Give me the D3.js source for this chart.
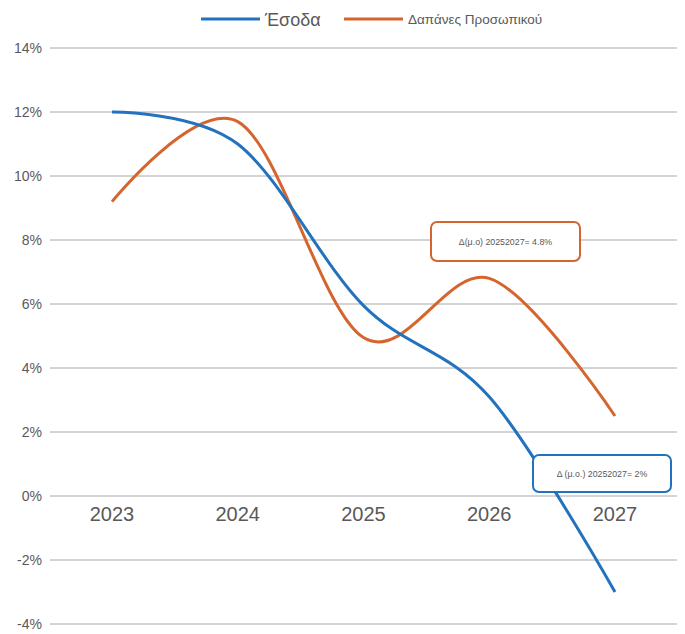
<!DOCTYPE html>
<html><head><meta charset="utf-8">
<script src="https://cdn.jsdelivr.net/npm/d3@7"></script>
<style>body{margin:0;background:#fff}svg{display:block}</style>
</head><body>
<svg id="c" width="685" height="634"></svg>
<script>
const years = ["2023","2024","2025","2026","2027"];
const esoda = [12.0, 11.0, 5.95, 3.1, -3.0];
const dapanes = [9.2, 11.7, 4.95, 6.8, 2.5];
const yTicks = [-4,-2,0,2,4,6,8,10,12,14];
const seriesNames = ["Έσοδα","Δαπάνες Προσωπικού"];
const annotations = ["Δ(μ.ο) 20252027= 4.8%","Δ (μ.ο.) 20252027= 2%"];

const svg = d3.select("#c");
const blue = "#2272BE", orange = "#D5652E", textCol = "#595959";
const x = d3.scalePoint().domain(years).range([112, 615]);
const y = d3.scaleLinear().domain([-4,14]).range([624, 48]);

// gridlines
svg.append("g").selectAll("line").data(yTicks).join("line")
  .attr("x1",50).attr("x2",677).attr("y1",d=>y(d)).attr("y2",d=>y(d))
  .attr("stroke","#a8a8a8").attr("stroke-width",1);
// y labels
svg.append("g").selectAll("text").data(yTicks).join("text")
  .attr("x",42).attr("y",d=>y(d)+5).attr("text-anchor","end")
  .attr("font-family","Liberation Sans, Arial, sans-serif").attr("font-size",14)
  .attr("fill",textCol).text(d=>d+"%");
// x labels
svg.append("g").selectAll("text").data(years).join("text")
  .attr("x",d=>x(d)).attr("y",521).attr("text-anchor","middle")
  .attr("font-family","Liberation Sans, Arial, sans-serif").attr("font-size",20)
  .attr("fill",textCol).text(d=>d);

const line = d3.line().x((d,i)=>x(years[i])).y(d=>y(d)).curve(d3.curveCardinal.tension(0));
svg.append("path").datum(dapanes).attr("d",line).attr("fill","none").attr("stroke",orange).attr("stroke-width",3);
svg.append("path").datum(esoda).attr("d",line).attr("fill","none").attr("stroke",blue).attr("stroke-width",3);

// annotation boxes
function box(x0,y0,w,h,col,txt){
  svg.append("rect").attr("x",x0).attr("y",y0).attr("width",w).attr("height",h)
    .attr("rx",6).attr("fill","#fff").attr("stroke",col).attr("stroke-width",2);
  svg.append("text").attr("x",x0+w/2).attr("y",y0+h/2+3).attr("text-anchor","middle")
    .attr("font-family","Liberation Sans, Arial, sans-serif").attr("font-size",8.8)
    .attr("fill",textCol).text(txt);
}
box(431,222,149,39,orange,annotations[0]);
box(533,455,138,37,blue,annotations[1]);

// legend
svg.append("line").attr("x1",201).attr("x2",260).attr("y1",19).attr("y2",19).attr("stroke",blue).attr("stroke-width",3);
svg.append("text").attr("x",265).attr("y",26).attr("font-family","Liberation Sans, Arial, sans-serif")
  .attr("font-size",18).attr("fill",textCol).text(seriesNames[0]);
svg.append("line").attr("x1",344).attr("x2",403).attr("y1",19).attr("y2",19).attr("stroke",orange).attr("stroke-width",3);
svg.append("text").attr("x",408).attr("y",24).attr("font-family","Liberation Sans, Arial, sans-serif")
  .attr("font-size",13.5).attr("fill",textCol).text(seriesNames[1]);
</script>
</body></html>
